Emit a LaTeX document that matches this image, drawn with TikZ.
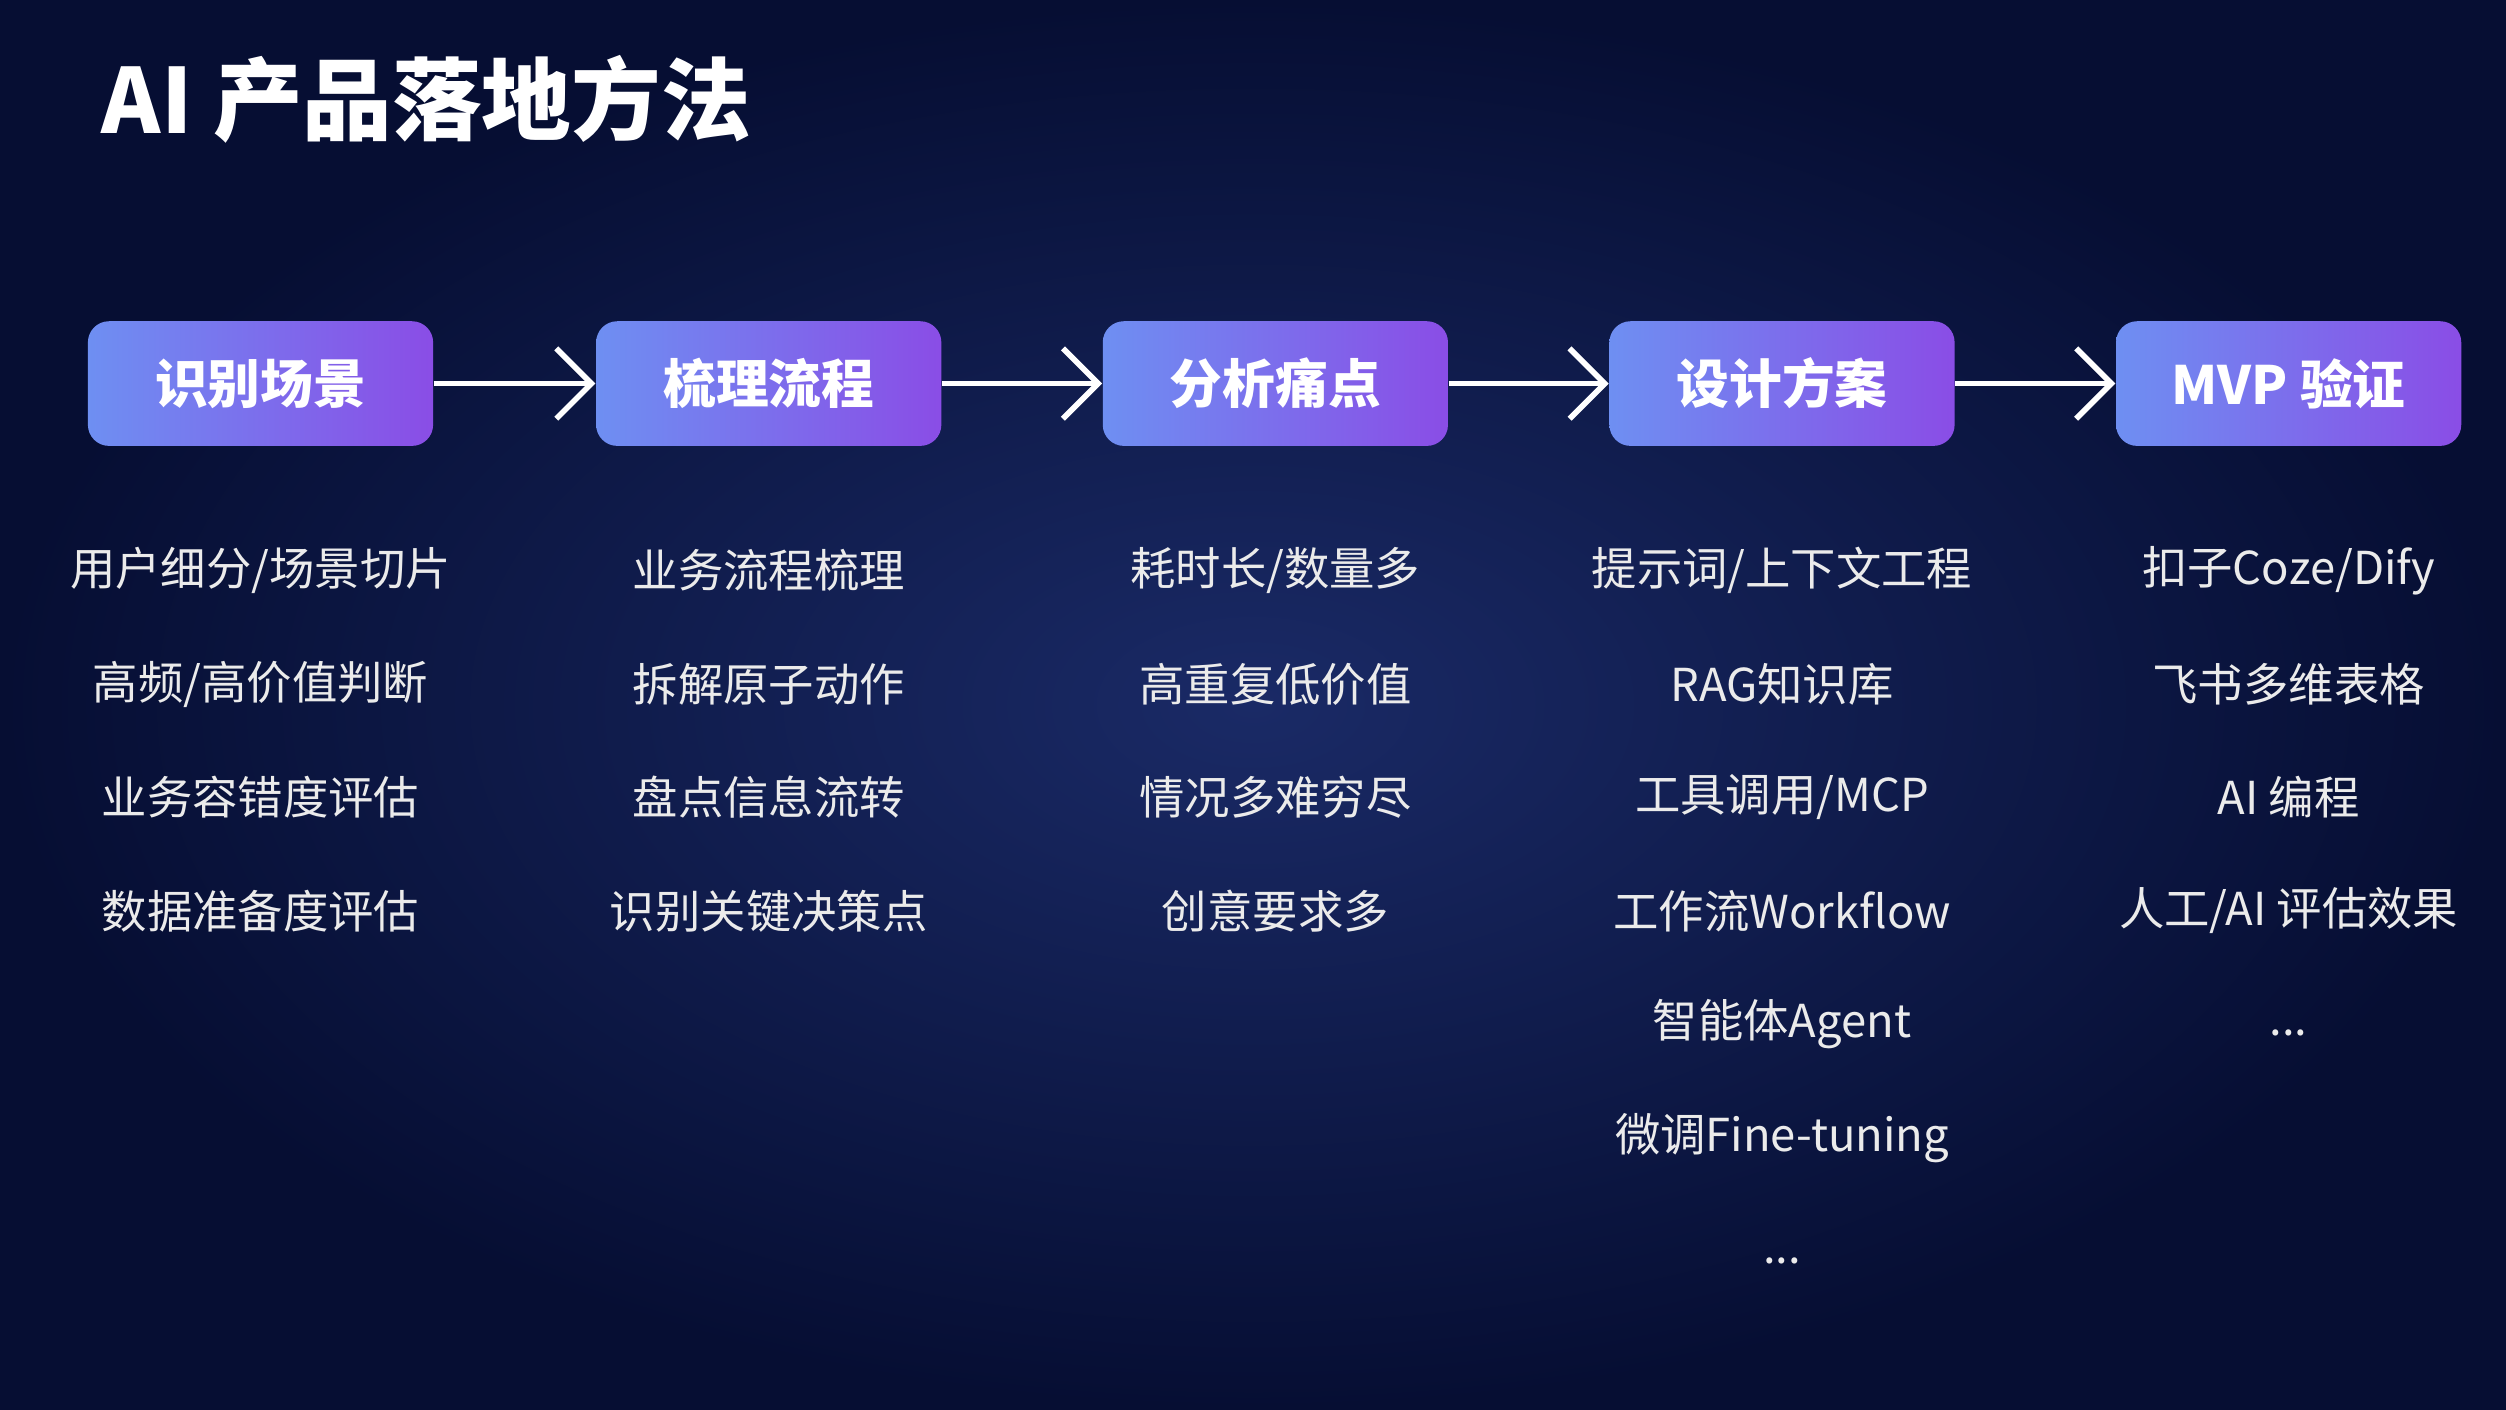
\documentclass[tikz,border=0pt]{standalone}
\usepackage{fontspec}
\setmainfont{Noto Sans CJK SC}
\usetikzlibrary{arrows.meta}
\definecolor{bgout}{HTML}{060E33}
\definecolor{bgin}{HTML}{1A2A66}
\definecolor{gA}{HTML}{6E8FF2}
\definecolor{gB}{HTML}{8A4DE6}
\tikzset{
  stage/.style={rounded corners=6pt, left color=gA, right color=gB, minimum width=216*0.01598cm, minimum height=78*0.01598cm, text=white, font=\fontsize{15}{18}\selectfont\bfseries},
  item/.style={text=white!92!black, font=\fontsize{12.9}{16}\selectfont},
  flow/.style={white, line width=1.6pt, -{Straight Barb[length=10pt,width=20pt,line width=1.6pt]}}
}
\begin{document}
\begin{tikzpicture}[x=0.01598cm,y=-0.01598cm]
\shade[inner color=bgin, outer color=bgout] (0,0) rectangle (1568,882);
\useasboundingbox (0,0) rectangle (1568,882);
\node[anchor=west, text=white, font=\fontsize{25.5}{30}\selectfont\bfseries] (title) at (56,62) {AI 产品落地方法};
\foreach \n/\x/\t in {a/163/识别场景, b/481/梳理流程, c/798/分析痛点, d/1115/设计方案, e/1432/MVP 验证}
  \node[stage] (\n) at (\x,240) {\t};
\foreach \p/\q in {a/b,b/c,c/d,d/e} \draw[flow] (\p.east) -- (\q.west);
\foreach \t [count=\i] in {用户细分/场景切片, 高频/高价值判断, 业务容错度评估, 数据准备度评估}
  \node[item] (a\i) at (163,286+71*\i) {\t};
\foreach \t [count=\i] in {业务流程梳理, 拆解原子动作, 盘点信息流转, 识别关键决策点}
  \node[item] (b\i) at (481,286+71*\i) {\t};
\foreach \t [count=\i] in {耗时长/数量多, 高重复低价值, 情况多难穷尽, 创意要求多}
  \node[item] (c\i) at (798,286+71*\i) {\t};
\foreach \t [count=\i] in {提示词/上下文工程, RAG知识库, 工具调用/MCP, 工作流Workflow, 智能体Agent, 微调Fine-tuning}
  \node[item] (d\i) at (1115,286+71*\i) {\t};
\node[item] (d7) at (1115,789) {...};
\foreach \t [count=\i] in {扣子Coze/Dify, 飞书多维表格, AI 编程, 人工/AI 评估效果}
  \node[item] (e\i) at (1432,286+71*\i) {\t};
\node[item] (e5) at (1432,646) {...};
\end{tikzpicture}
\end{document}
